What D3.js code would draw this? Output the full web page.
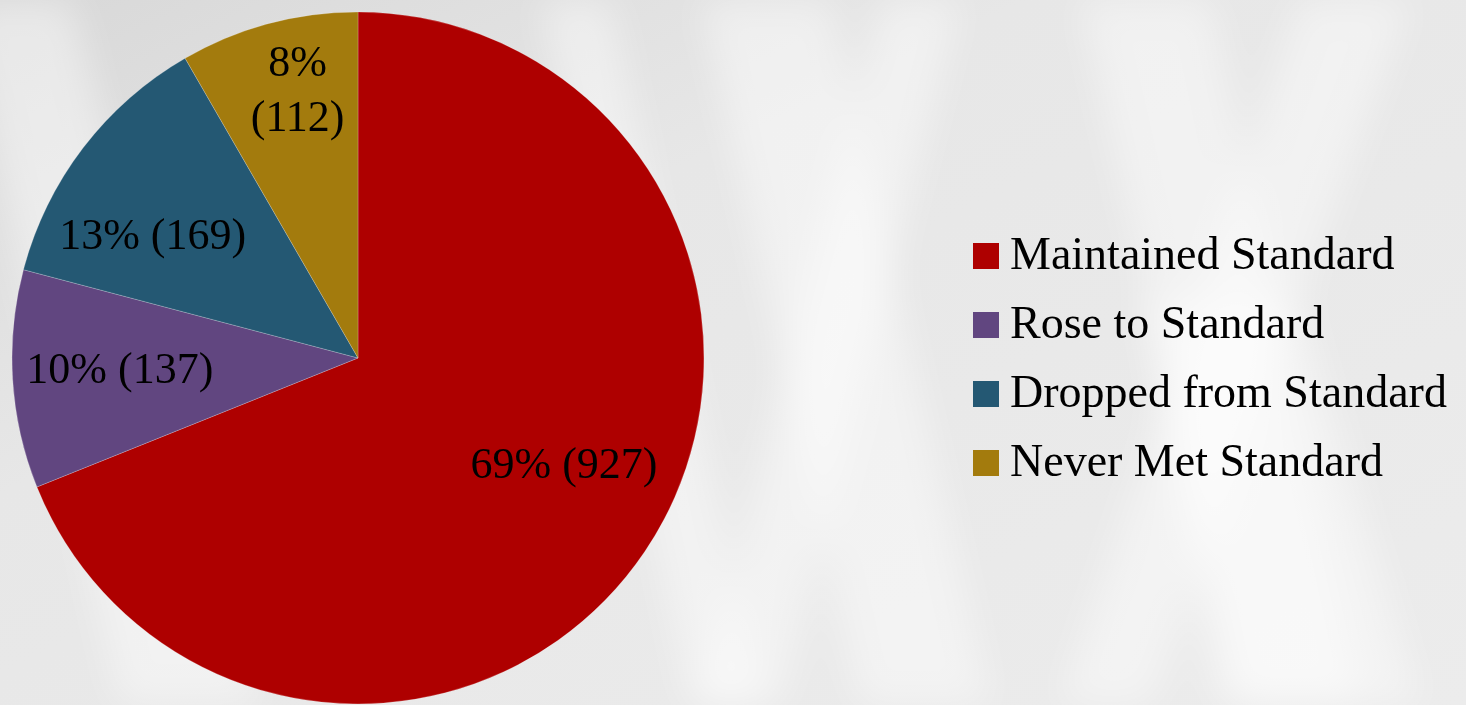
<!DOCTYPE html>
<html>
<head>
<meta charset="utf-8">
<script src="https://cdn.jsdelivr.net/npm/d3@7"></script>
<style>
  html, body { margin: 0; padding: 0; overflow: hidden; }
  svg { display: block; }
</style>
</head>
<body>
<div id="vis"></div>
<script>
// chart data
var categories = ["Maintained Standard", "Rose to Standard", "Dropped from Standard", "Never Met Standard"];
var counts = [927, 137, 169, 112];
var percents = ["69%", "10%", "13%", "8%"];
var colors = ["#ae0000", "#614680", "#245873", "#a37b0d"];

var W = 1466, H = 705;
var font = '"Liberation Serif", "DejaVu Serif", serif';

// where each label sits inside its slice: share of the sweep, share of the radius
var labelPlace = [
    { along: 0.472, out: 0.669, wrap: false },
    { along: 0.53, out: 0.689, wrap: false },
    { along: 0.36, out: 0.693, wrap: false },
    { along: 0.58, out: 0.80, wrap: true }
];

var svg = d3.select("#vis").append("svg")
    .attr("width", W)
    .attr("height", H);

// background: soft grey with pale diagonal folds
var defs = svg.append("defs");
var bg = defs.append("linearGradient").attr("id", "bg")
    .attr("x1", 0).attr("y1", 0).attr("x2", 1).attr("y2", 1);
bg.append("stop").attr("offset", "0%").attr("stop-color", "#d8d8d8");
bg.append("stop").attr("offset", "35%").attr("stop-color", "#e7e7e7");
bg.append("stop").attr("offset", "100%").attr("stop-color", "#ececec");
defs.append("filter").attr("id", "soft")
    .attr("x", "-20%").attr("y", "-20%").attr("width", "140%").attr("height", "140%")
    .append("feGaussianBlur").attr("stdDeviation", 18);

svg.append("rect").attr("width", W).attr("height", H).attr("fill", "url(#bg)");

var folds = [
    [[-40, 0], [70, 0], [260, 705], [120, 705]],
    [[700, 0], [830, 0], [990, 705], [860, 705]],
    [[880, 0], [960, 0], [780, 705], [700, 705]],
    [[1080, 0], [1210, 0], [1360, 705], [1240, 705]],
    [[1300, 0], [1410, 0], [1150, 705], [1060, 705]],
    [[540, 0], [610, 0], [760, 705], [690, 705]],
    [[1140, 300], [1300, 300], [1420, 705], [1220, 705]]
];
svg.append("g").attr("filter", "url(#soft)")
    .selectAll("polygon").data(folds).enter()
    .append("polygon")
    .attr("points", function (d) { return d.map(function (p) { return p.join(","); }).join(" "); })
    .attr("fill", "#ffffff")
    .attr("opacity", 0.42);

// pie
var cx = 358, cy = 358, R = 346;
var slices = categories.map(function (c, i) {
    return { name: c, value: counts[i], pct: percents[i], color: colors[i], place: labelPlace[i] };
});

var pie = d3.pie().sort(null).value(function (d) { return d.value; });
var arc = d3.arc().innerRadius(0).outerRadius(R);
var arcs = pie(slices);

var g = svg.append("g").attr("transform", "translate(" + cx + "," + cy + ")");

g.selectAll("path").data(arcs).enter()
    .append("path")
    .attr("d", arc)
    .attr("fill", function (d) { return d.data.color; })
    .attr("stroke", "rgba(255,255,255,0.35)")
    .attr("stroke-width", 0.6);

// labels: big slices on one line, the narrow one wrapped on two
g.selectAll("text.lbl").data(arcs).enter()
    .append("text")
    .attr("class", "lbl")
    .each(function (d) {
        var p = d.data.place;
        var a = d.startAngle + (d.endAngle - d.startAngle) * p.along;
        var c = d3.arc().innerRadius(R * p.out).outerRadius(R * p.out)
            .startAngle(a).endAngle(a).centroid();
        var t = d3.select(this)
            .attr("text-anchor", "middle")
            .style("font-family", font)
            .style("font-size", "44px")
            .attr("fill", "#000");
        if (p.wrap) {
            t.append("tspan").attr("x", c[0]).attr("y", c[1] - 12).text(d.data.pct);
            t.append("tspan").attr("x", c[0]).attr("y", c[1] + 43).text("(" + d.data.value + ")");
        } else {
            t.attr("x", c[0]).attr("y", c[1] + 15)
                .text(d.data.pct + " (" + d.data.value + ")");
        }
    });

// legend
var legend = svg.append("g").attr("transform", "translate(973,243)");
var rows = legend.selectAll("g").data(slices).enter()
    .append("g")
    .attr("transform", function (d, i) { return "translate(0," + (i * 69) + ")"; });

rows.append("rect")
    .attr("width", 26).attr("height", 26)
    .attr("fill", function (d) { return d.color; });

rows.append("text")
    .attr("x", 37).attr("y", 26)
    .style("font-family", font)
    .style("font-size", "46px")
    .attr("fill", "#000")
    .text(function (d) { return d.name; });
</script>
</body>
</html>
